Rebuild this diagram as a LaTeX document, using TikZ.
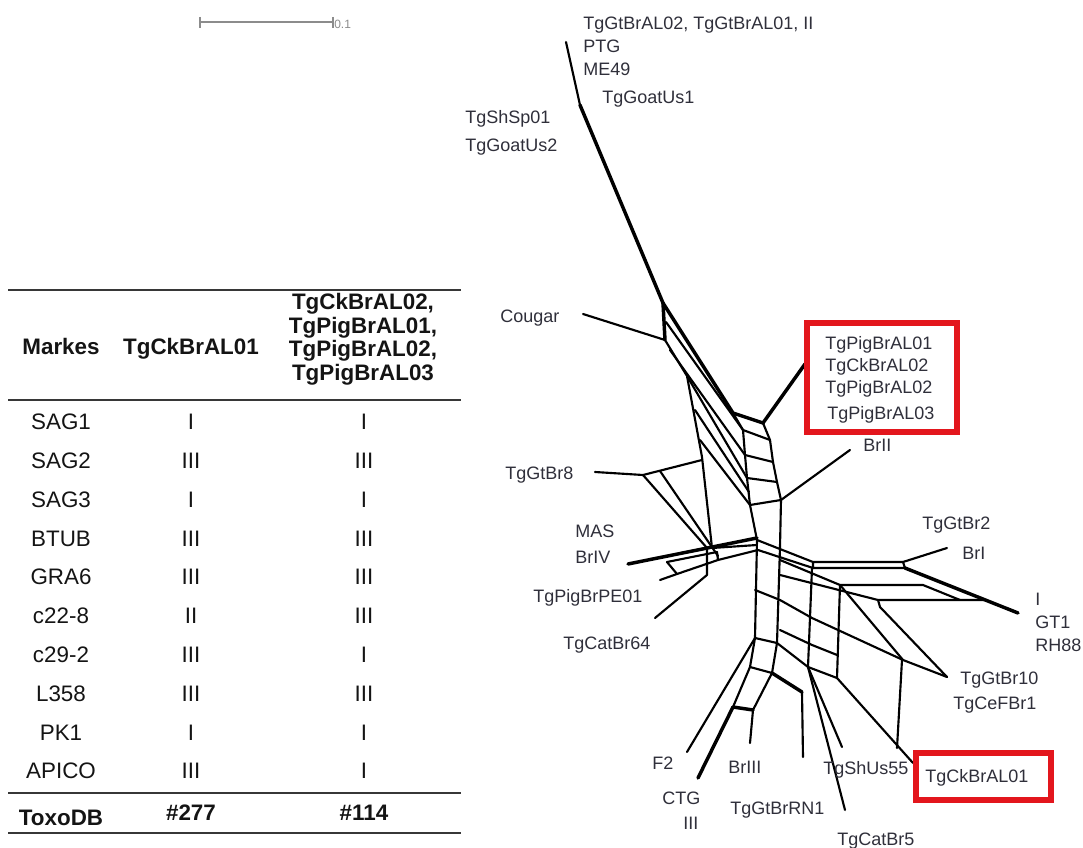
\documentclass[tikz,border=0pt]{standalone}
\usepackage{fontspec}
\setmainfont{Liberation Sans}
\usetikzlibrary{positioning}
\definecolor{ink}{HTML}{2F2F3A}
\definecolor{tabink}{HTML}{141414}
\definecolor{boxred}{HTML}{E3161D}
\definecolor{scalegray}{HTML}{8C8C8C}

\begin{document}
\begin{tikzpicture}[
    x=0.75pt, y=-0.75pt,
    lbl/.style={anchor=base west, inner sep=0pt, text=ink, font=\fontsize{13.5}{16}\selectfont},
    cell/.style={anchor=base, inner sep=0pt, text=tabink, font=\fontsize{16.8}{20}\selectfont},
    headcell/.style={cell, font=\fontsize{16.8}{20}\selectfont\bfseries},
    rule/.style={line width=1.8pt, color=tabink!85},
    edge/.style={line width=1.6pt, line join=round, line cap=round},
    thk/.style={edge, line width=2.6pt},
    redbox/.style={draw=boxred, line width=3.8pt}
]
    \useasboundingbox (0,0) rectangle (1083,848);

    % scale bar
    \draw[scalegray, line width=1.1pt] (200,22) -- (333,22);
    \draw[scalegray, line width=1.1pt] (200,17) -- (200,28) (333,17) -- (333,28);
    \node[anchor=base west, inner sep=0pt, text=scalegray, font=\fontsize{9}{10}\selectfont] (scale) at (334,29) {0.1};

    % table
    \draw[rule] (8,290) -- (461,290);
    \draw[rule, line width=1.5pt] (8,400) -- (461,400);
    \draw[rule] (8,793) -- (461,793);
    \draw[rule, line width=1.5pt] (8,833) -- (461,833);

    \node[headcell] (hmark) at (61,355) {Markes};
    \node[headcell] (hck) at (191,355) {TgCkBrAL01};
    \node[headcell] (hpa) at (363,310) {TgCkBrAL02,};
    \node[headcell] (hpb) at (363,333.5) {TgPigBrAL01,};
    \node[headcell] (hpc) at (363,357) {TgPigBrAL02,};
    \node[headcell] (hpd) at (363,380.5) {TgPigBrAL03};

    \node[cell] (m1) at (61,429.7) {SAG1};   \node[cell] (a1) at (191,429.7) {I};   \node[cell] (b1) at (364,429.7) {I};
    \node[cell] (m2) at (61,468.5) {SAG2};   \node[cell] (a2) at (191,468.5) {III}; \node[cell] (b2) at (364,468.5) {III};
    \node[cell] (m3) at (61,507.3) {SAG3};   \node[cell] (a3) at (191,507.3) {I};   \node[cell] (b3) at (364,507.3) {I};
    \node[cell] (m4) at (61,546.1) {BTUB};   \node[cell] (a4) at (191,546.1) {III}; \node[cell] (b4) at (364,546.1) {III};
    \node[cell] (m5) at (61,584.9) {GRA6};   \node[cell] (a5) at (191,584.9) {III}; \node[cell] (b5) at (364,584.9) {III};
    \node[cell] (m6) at (61,623.7) {c22-8};  \node[cell] (a6) at (191,623.7) {II};  \node[cell] (b6) at (364,623.7) {III};
    \node[cell] (m7) at (61,662.5) {c29-2};  \node[cell] (a7) at (191,662.5) {III}; \node[cell] (b7) at (364,662.5) {I};
    \node[cell] (m8) at (61,701.3) {L358};   \node[cell] (a8) at (191,701.3) {III}; \node[cell] (b8) at (364,701.3) {III};
    \node[cell] (m9) at (61,740.1) {PK1};    \node[cell] (a9) at (191,740.1) {I};   \node[cell] (b9) at (364,740.1) {I};
    \node[cell] (m10) at (61,778.9) {APICO}; \node[cell] (a10) at (191,778.9) {III}; \node[cell] (b10) at (364,778.9) {I};

    \node[headcell] (toxo) at (61,825) {ToxoDB};
    \node[headcell] (tca) at (191,821) {\#277};
    \node[headcell] (tcb) at (364,821) {\#114};

    % network
    \draw[edge] (566,42) -- (580,105);
    \draw[thk] (580,105) -- (663,303);
    \draw[thk] (663,303) -- (733,413) -- (763,423);
    \draw[thk] (663,303) -- (665,340);
    \draw[edge] (583,314) -- (665,340);
    \draw[edge] (665,340) -- (687,376) -- (702,457) -- (712,548);
    \draw[edge] (666,322) -- (743,430);
    \draw[edge] (670,350) -- (745,455);
    \draw[edge] (687,376) -- (747,478);
    \draw[edge] (695,410) -- (749,492);
    \draw[edge] (700,440) -- (750,505);
    \draw[edge] (733,413) -- (743,430) -- (745,455) -- (747,478) -- (750,505) -- (757,540);
    \draw[edge] (763,423) -- (770,440) -- (773,462) -- (777,482) -- (781,500) -- (780,547);
    \draw[edge] (743,430) -- (770,440);
    \draw[edge] (745,455) -- (773,462);
    \draw[edge] (747,478) -- (777,482);
    \draw[edge] (750,505) -- (781,500);
    \draw[thk] (763,423) -- (805,364);
    \draw[edge] (781,500) -- (850,450);

    \draw[edge] (595,472) -- (643,475) -- (702,460);
    \draw[edge] (643,475) -- (707,548);
    \draw[edge] (660,471) -- (718,556);

    \draw[thk] (628,564) -- (757,538);
    \draw[edge] (667,562) -- (717,552);
    \draw[edge] (667,562) -- (677,574);
    \draw[edge] (660,580) -- (677,574) -- (718,560) -- (758,550);
    \draw[edge] (707,548) -- (707,575) -- (655,618);
    \draw[edge] (717,552) -- (718,560);
    \draw[edge] (712,548) -- (757,545);

    \draw[edge] (757,540) -- (813,562) -- (903,562) -- (905,568) -- (813,568) -- (813,562);
    \draw[edge] (758,550) -- (813,568);
    \draw[edge] (780,560) -- (840,585) -- (923,585) -- (960,600);
    \draw[edge] (780,575) -- (878,600) -- (985,600);
    \draw[edge] (878,600) -- (880,607) -- (947,677);
    \draw[thk] (905,568) -- (1018,613);
    \draw[edge] (903,562) -- (947,548);
    \draw[edge] (840,585) -- (903,660) -- (947,677);
    \draw[edge] (757,540) -- (755,638);
    \draw[edge] (780,547) -- (777,643);
    \draw[edge] (812,568) -- (808,667);
    \draw[edge] (840,585) -- (837,678);
    \draw[edge] (780,600) -- (812,618) -- (903,660);
    \draw[edge] (755,590) -- (780,600);
    \draw[edge] (780,630) -- (812,645) -- (837,655);
    \draw[edge] (902,660) -- (897,748);

    \draw[edge] (755,638) -- (777,643) -- (808,667) -- (837,678) -- (913,763);
    \draw[edge] (755,638) -- (750,667) -- (733,707);
    \draw[edge] (777,643) -- (772,673) -- (753,710);
    \draw[edge] (750,667) -- (772,673);
    \draw[thk] (772,673) -- (802,692);
    \draw[thk] (733,707) -- (753,710);
    \draw[edge] (753,710) -- (750,743);
    \draw[edge] (802,692) -- (803,757);
    \draw[edge] (755,638) -- (687,752);
    \draw[thk] (733,707) -- (698,778);
    \draw[edge] (808,667) -- (842,747);
    \draw[edge] (808,667) -- (845,810);

    % labels
    \node[lbl] (gtbral) at (583,30) {TgGtBrAL02, TgGtBrAL01, II};
    \node[lbl] (ptg) at (583,53) {PTG};
    \node[lbl] (me49) at (583,75.5) {ME49};
    \node[lbl] (goat1) at (602,103.5) {TgGoatUs1};
    \node[lbl] (shsp) at (465,123.5) {TgShSp01};
    \node[lbl] (goat2) at (465,152) {TgGoatUs2};
    \node[lbl] (cougar) at (500,323) {Cougar};
    \node[lbl] (pig1) at (825,349.5) {TgPigBrAL01};
    \node[lbl] (ck2) at (825,372) {TgCkBrAL02};
    \node[lbl] (pig2) at (825,393.5) {TgPigBrAL02};
    \node[lbl] (pig3) at (827,419.5) {TgPigBrAL03};
    \draw[redbox] (807,323) rectangle (957,432);
    \node[lbl] (brii) at (863,452) {BrII};
    \node[lbl] (gtbr8) at (505,479.5) {TgGtBr8};
    \node[lbl] (mas) at (575,537.5) {MAS};
    \node[lbl] (briv) at (575,563.5) {BrIV};
    \node[lbl] (pigpe) at (533,602.5) {TgPigBrPE01};
    \node[lbl] (cat64) at (563,649.5) {TgCatBr64};
    \node[lbl] (gtbr2) at (922,529.5) {TgGtBr2};
    \node[lbl] (bri) at (962,559.5) {BrI};
    \node[lbl] (typei) at (1035,606) {I};
    \node[lbl] (gt1) at (1035,629) {GT1};
    \node[lbl] (rh88) at (1035,652) {RH88};
    \node[lbl] (gtbr10) at (960,684.5) {TgGtBr10};
    \node[lbl] (cefbr) at (953,709.5) {TgCeFBr1};
    \node[lbl] (ftwo) at (652,769.5) {F2};
    \node[lbl] (ctg) at (662,804.5) {CTG};
    \node[lbl] (typeiii) at (683,829.5) {III};
    \node[lbl] (briii) at (728,773.5) {BrIII};
    \node[lbl] (rn1) at (730,814.5) {TgGtBrRN1};
    \node[lbl] (shus) at (823,774.5) {TgShUs55};
    \node[lbl] (cat5) at (837,845.5) {TgCatBr5};
    \node[lbl] (ckal1) at (925,782.5) {TgCkBrAL01};
    \draw[redbox] (916,753) rectangle (1051,800);
\end{tikzpicture}
\end{document}
